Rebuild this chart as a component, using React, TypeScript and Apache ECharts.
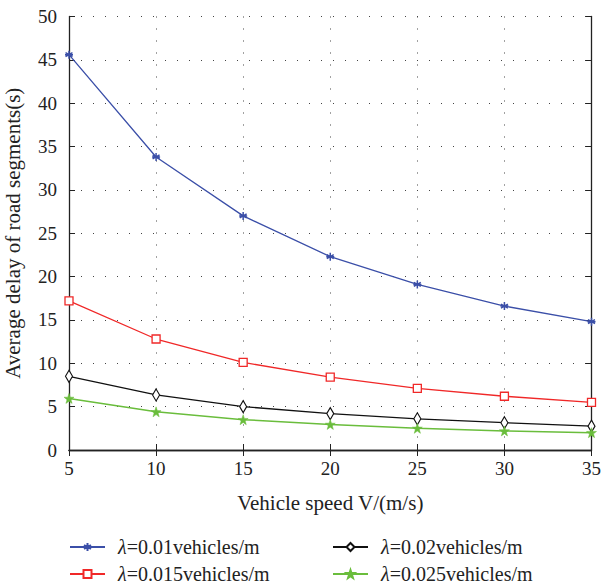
import React, { useEffect, useRef } from "react";
import * as echarts from "echarts";

const speeds = [5, 10, 15, 20, 25, 30, 35];
const lambda001 = [45.6, 33.8, 27.0, 22.3, 19.1, 16.6, 14.8];
const lambda0015 = [17.2, 12.8, 10.1, 8.4, 7.1, 6.2, 5.5];
const lambda002 = [8.5, 6.35, 5.0, 4.2, 3.6, 3.15, 2.75];
const lambda0025 = [5.95, 4.4, 3.5, 2.95, 2.5, 2.2, 2.0];
const seriesNames = [
  "λ=0.01vehicles/m",
  "λ=0.015vehicles/m",
  "λ=0.02vehicles/m",
  "λ=0.025vehicles/m",
];

const FONT = "Liberation Serif";

const asterisk = "path://M0,-5L0,5M-4.33,-2.5L4.33,2.5M-4.33,2.5L4.33,-2.5M-5,0L5,0";
const star =
  "path://M0,-10L2.35,-3.24L9.51,-3.09L3.8,1.24L5.88,8.09L0,4L-5.88,8.09L-3.8,1.24L-9.51,-3.09L-2.35,-3.24Z";

export default function App() {
  const ref = useRef<HTMLDivElement>(null);
  useEffect(() => {
    if (!ref.current) return;
    const chart = echarts.init(ref.current, undefined, { renderer: "svg" });
    const pair = (ys: number[]) => speeds.map((x, i) => [x, ys[i]]);
    const axisLine = { show: true, lineStyle: { color: "#222", width: 1.3 } };
    const split = { show: true, lineStyle: { color: "#444", type: [1, 11], width: 1 } };
    const legendText = {
      fontFamily: FONT,
      fontSize: 20,
      color: "#222",
      padding: [0, 0, 0, 8],
      rich: {
        l: { fontFamily: FONT, fontSize: 20, fontStyle: "italic", color: "#222" },
        n: { fontFamily: FONT, fontSize: 20, color: "#222" },
      },
    };
    const legendFmt = (name: string) => "{l|λ}{n|" + name.slice(1) + "}";
    const legendPos = [
      { left: 69, top: 548 },
      { left: 69, top: 575 },
      { left: 332, top: 548 },
      { left: 332, top: 575 },
    ];
    const legends = seriesNames.map((n, i) => ({
      data: [n],
      orient: "horizontal",
      left: legendPos[i].left,
      top: legendPos[i].top - 11,
      padding: 0,
      itemWidth: 35,
      itemHeight: 10,
      textStyle: legendText,
      formatter: legendFmt,
    }));
    const tick = { show: true, inside: true, length: 6, lineStyle: { color: "#222" } };
    chart.setOption({
      animation: false,
      backgroundColor: "#fff",
      textStyle: { fontFamily: FONT },
      grid: {
        left: 69,
        right: 11.5,
        top: 16.5,
        bottom: 136,
        containLabel: false,
        outerBoundsMode: "none",
      },
      legend: legends,
      xAxis: [
        {
          type: "value",
          min: 5,
          max: 35,
          interval: 5,
          name: "Vehicle speed V/(m/s)",
          nameLocation: "middle",
          nameGap: 42,
          nameTextStyle: { fontFamily: FONT, fontSize: 21, color: "#222" },
          axisLine,
          axisTick: tick,
          axisLabel: { fontFamily: FONT, fontSize: 19, color: "#222", margin: 9 },
          splitLine: split,
        },
        {
          type: "value",
          position: "top",
          min: 5,
          max: 35,
          interval: 5,
          axisLine,
          axisTick: tick,
          axisLabel: { show: false },
          splitLine: { show: false },
        },
      ],
      yAxis: [
        {
          type: "value",
          min: 0,
          max: 50,
          interval: 5,
          name: "Average delay of road segments(s)",
          nameLocation: "middle",
          nameGap: 46,
          nameTextStyle: { fontFamily: FONT, fontSize: 21, color: "#222" },
          axisLine,
          axisTick: tick,
          axisLabel: { fontFamily: FONT, fontSize: 19, color: "#222", margin: 12 },
          splitLine: split,
        },
        {
          type: "value",
          position: "right",
          min: 0,
          max: 50,
          interval: 5,
          axisLine,
          axisTick: tick,
          axisLabel: { show: false },
          splitLine: { show: false },
        },
      ],
      series: [
        {
          name: seriesNames[0],
          type: "line",
          data: pair(lambda001),
          symbol: asterisk,
          symbolSize: 8,
          color: "#3b4fa8",
          lineStyle: { color: "#3b4fa8", width: 1.3 },
          itemStyle: { color: "#3b4fa8", borderColor: "#3b4fa8", borderWidth: 1.5 },
        },
        {
          name: seriesNames[1],
          type: "line",
          data: pair(lambda0015),
          symbol: "rect",
          symbolSize: 8,
          color: "#f02828",
          lineStyle: { color: "#f02828", width: 1.3 },
          itemStyle: { color: "#fff", borderColor: "#f02828", borderWidth: 1.3 },
        },
        {
          name: seriesNames[2],
          type: "line",
          data: pair(lambda002),
          symbol: "diamond",
          symbolSize: [7, 12],
          color: "#111",
          lineStyle: { color: "#111", width: 1.3 },
          itemStyle: { color: "#fff", borderColor: "#111", borderWidth: 1.2 },
        },
        {
          name: seriesNames[3],
          type: "line",
          data: pair(lambda0025),
          symbol: star,
          symbolSize: 10,
          color: "#6abd3c",
          lineStyle: { color: "#6abd3c", width: 1.5 },
          itemStyle: { color: "#6abd3c", borderColor: "#6abd3c", borderWidth: 0.5 },
        },
      ],
    });
    return () => chart.dispose();
  }, []);
  return <div ref={ref} style={{ width: 603, height: 586, position: "absolute", left: 0, top: 0 }} />;
}
